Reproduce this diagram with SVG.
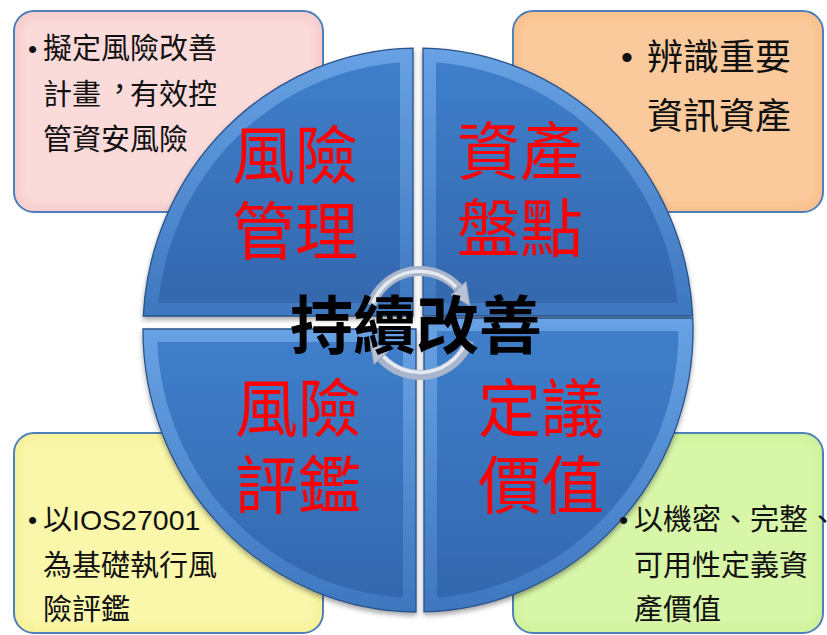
<svg xmlns="http://www.w3.org/2000/svg" width="827" height="635" viewBox="0 0 827 635" xml:lang="zh-TW" lang="zh-TW">
<defs>
<style>
.box{stroke:#4F7FBA;stroke-width:2}
.btxt{font-family:"Noto Sans CJK TC","Noto Sans CJK SC",sans-serif;fill:#111;font-size:29px}
.bul{font-family:"Liberation Sans",Arial,sans-serif;fill:#111}
.red{font-family:"Noto Sans CJK TC","Noto Sans CJK SC",sans-serif;fill:#FF0000;font-size:63px}
.ctr{font-family:"Noto Sans CJK TC","Noto Sans CJK SC",sans-serif;fill:#000;font-size:63px;font-weight:bold}
.qo{fill:url(#gOuter);stroke:#2A5288;stroke-width:1.3}
.qi{fill:url(#gInner)}
.ring{fill:none;stroke:#A9B5CB;stroke-width:10}
.ringhi{fill:none;stroke:#E4E9F2;stroke-width:3.5}
.ah{fill:#B8C3D6;stroke:#8E9CB6;stroke-width:1}
</style>
<linearGradient id="gOuter" x1="0" y1="0" x2="0" y2="1">
<stop offset="0" stop-color="#68A2E4"/>
<stop offset="1" stop-color="#3E77BF"/>
</linearGradient>
<linearGradient id="gInner" x1="0" y1="0" x2="0" y2="1">
<stop offset="0" stop-color="#3F7ECA"/>
<stop offset="1" stop-color="#3468AE"/>
</linearGradient>
<filter id="sh" x="-10%" y="-10%" width="120%" height="120%">
<feDropShadow dx="0" dy="3" stdDeviation="2.5" flood-color="#000" flood-opacity="0.35"/>
</filter>
<filter id="glow" x="-5%" y="-5%" width="110%" height="110%">
<feGaussianBlur stdDeviation="3"/>
</filter>
</defs>

<g id="box-tl">
<rect class="box" x="14" y="11" width="309" height="201" rx="20" fill="#F8CFCF"/>
<rect x="22" y="19" width="293" height="185" rx="14" fill="#FBDADA" filter="url(#glow)"/>
<text class="bul" x="28" y="58" font-size="26">•</text>
<text class="btxt"><tspan x="43" y="59">擬定風險改善</tspan><tspan x="43" y="105">計畫<tspan dx="4" dy="-5">，</tspan><tspan dx="-4" dy="5">有效控</tspan></tspan><tspan x="43" y="150">管資安風險</tspan></text>
</g>

<g id="box-tr">
<rect class="box" x="513" y="11" width="310" height="201" rx="20" fill="#F9C28F"/>
<rect x="521" y="19" width="294" height="185" rx="14" fill="#FBCA9C" filter="url(#glow)"/>
<text class="bul" x="621" y="69" font-size="34">•</text>
<text class="btxt" style="font-size:36px"><tspan x="647" y="70">辨識重要</tspan><tspan x="647" y="129">資訊資產</tspan></text>
</g>

<g id="box-bl">
<rect class="box" x="14" y="433" width="309" height="200" rx="20" fill="#F7F29C"/>
<rect x="22" y="441" width="293" height="184" rx="14" fill="#FAF7AA" filter="url(#glow)"/>
<text class="bul" x="28" y="529" font-size="26">•</text>
<text class="btxt"><tspan x="43" y="530">以<tspan style="font-family:'Liberation Sans',Arial,sans-serif;font-size:28.5px">IOS27001</tspan></tspan><tspan x="43" y="576">為基礎執行風</tspan><tspan x="43" y="620">險評鑑</tspan></text>
</g>

<g id="box-br">
<rect class="box" x="513" y="433" width="310" height="200" rx="20" fill="#D1F29D"/>
<rect x="521" y="441" width="294" height="184" rx="14" fill="#D8F6A8" filter="url(#glow)"/>
</g>

<g id="quad-tl" filter="url(#sh)">
<path class="qo" d="M 413 316 L 143.3 316 A 275 282 0 0 1 413 48.05 Z"/>
<path class="qi" d="M 400 303 L 158.3 303 A 261 268 0 0 1 400 62.6 Z"/>
</g>
<g id="quad-tr" filter="url(#sh)">
<path class="qo" d="M 423 316 L 423 48.05 A 275 282 0 0 1 692.7 316 Z"/>
<path class="qi" d="M 436 303 L 436 62.6 A 261 268 0 0 1 677.7 303 Z"/>
</g>
<g id="quad-bl" filter="url(#sh)">
<path class="qo" d="M 416 329 L 416 612 A 275 282 0 0 1 143 329 Z"/>
<path class="qi" d="M 403 342 L 403 597.5 A 261 268 0 0 1 157.3 342 Z"/>
</g>
<g id="quad-br" filter="url(#sh)">
<path class="qo" d="M 424 318 L 692.75 318 A 275 282 0 0 1 424 611.9 Z"/>
<path class="qi" d="M 437 331 L 678.5 331 A 261 268 0 0 1 437 597.5 Z"/>
</g>

<g id="connectors">
<path class="ring" d="M 371.1 305.2 A 52 52 0 0 1 458.6 288.2"/>
<path class="ringhi" d="M 373 303 A 50 50 0 0 1 456 287"/>
<polygon class="ah" points="466.1,281.5 451.2,294.9 470,306"/>
<path class="ring" d="M 468.9 340.8 A 52 52 0 0 1 381.4 357.8"/>
<path class="ringhi" d="M 467 339.5 A 50 50 0 0 1 383 356"/>
<polygon class="ah" points="373.9,364.5 388.8,351.1 370,340"/>
</g>

<g id="labels">
<text class="red"><tspan x="232" y="178">風險</tspan><tspan x="232" y="254">管理</tspan></text>
<text class="red"><tspan x="457" y="174">資產</tspan><tspan x="457" y="251">盤點</tspan></text>
<text class="red"><tspan x="235" y="431">風險</tspan><tspan x="235" y="508">評鑑</tspan></text>
<text class="red"><tspan x="478" y="431">定議</tspan><tspan x="478" y="508">價值</tspan></text>
<text class="ctr" x="416" y="348" text-anchor="middle">持續改善</text>
</g>

<g id="box-br-text">
<text class="bul" x="619" y="529" font-size="26">•</text>
<text class="btxt"><tspan x="634" y="530">以機密、完整、</tspan><tspan x="634" y="576">可用性定義資</tspan><tspan x="634" y="620">產價值</tspan></text>
</g>
</svg>
